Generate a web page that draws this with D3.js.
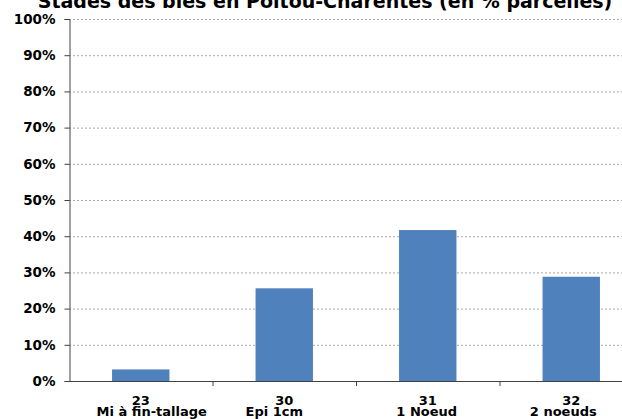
<!DOCTYPE html>
<html><head><meta charset="utf-8">
<script src="https://cdn.jsdelivr.net/npm/d3@7"></script>
<style>body{margin:0;background:#fff}svg{display:block}</style>
</head><body>
<script>
const title = "Stades des blés en Poitou-Charentes (en % parcelles)";
const codes = ["23", "30", "31", "32"];
const stages = ["Mi à fin-tallage", "Epi 1cm", "1 Noeud", "2 noeuds"];
const values = [3.2, 25.6, 41.7, 28.8];
const yTicks = [0, 10, 20, 30, 40, 50, 60, 70, 80, 90, 100];

(function () {
const W = 622, H = 419;
const mLeft = 69, mRight = 643, mTop = 19, mBottom = 381;
const font = "Verdana, 'DejaVu Sans', sans-serif";
const stageShift = [11, -10, -1, -8]; // layout nudge of second label line

const svg = d3.select("body").append("svg").attr("width", W).attr("height", H);

const y = d3.scaleLinear().domain([0, 100]).range([mBottom, mTop]);
const x = d3.scaleBand().domain(codes).range([mLeft, mRight]).paddingInner(0.6).paddingOuter(0.3);
const step = (mRight - mLeft) / codes.length;

// gridlines
svg.append("g").selectAll("line").data(yTicks.filter(d => d > 0)).join("line")
  .attr("x1", mLeft).attr("x2", W).attr("y1", d => y(d) + 0.5).attr("y2", d => y(d) + 0.5)
  .attr("stroke", "#a8a8a8").attr("stroke-width", 1).attr("stroke-dasharray", "2,2");

// bars
svg.append("g").selectAll("rect").data(values).join("rect")
  .attr("x", (d, i) => x(codes[i])).attr("width", x.bandwidth())
  .attr("y", d => y(d)).attr("height", d => y(0) - y(d))
  .attr("fill", "#4f81bd");

// y axis
const yAxis = d3.axisLeft(y).tickValues(yTicks).tickFormat(d => d + "%").tickSize(5).tickPadding(9);
const gy = svg.append("g").attr("transform", `translate(${mLeft + 0.5},0)`).call(yAxis);
gy.select(".domain").attr("stroke", "#404040");
gy.selectAll(".tick line").attr("stroke", "#404040");
gy.selectAll("text").attr("font-family", font).attr("font-weight", "bold").attr("font-size", "13.5px").attr("fill", "#000");

// x axis
svg.append("line").attr("x1", mLeft).attr("x2", W).attr("y1", mBottom + 0.5).attr("y2", mBottom + 0.5)
  .attr("stroke", "#404040").attr("stroke-width", 1);
svg.append("g").selectAll("line").data(d3.range(1, codes.length)).join("line")
  .attr("x1", d => mLeft + d * step + 0.5).attr("x2", d => mLeft + d * step + 0.5)
  .attr("y1", mBottom).attr("y2", mBottom + 5).attr("stroke", "#404040");

const lab = svg.append("g").attr("font-family", font).attr("font-weight", "bold").attr("font-size", "13px").attr("text-anchor", "middle");
lab.selectAll("text.c").data(codes).join("text").attr("class", "c")
  .attr("x", d => x(d) + x.bandwidth() / 2).attr("y", 405).text(d => d);
lab.selectAll("text.s").data(stages).join("text").attr("class", "s")
  .attr("x", (d, i) => x(codes[i]) + x.bandwidth() / 2 + stageShift[i]).attr("y", 416).text(d => d);

// title
svg.append("text").attr("x", 325).attr("y", 8).attr("text-anchor", "middle")
  .attr("font-family", font).attr("font-weight", "bold").attr("font-size", "19px").text(title);
})();
</script>
</body></html>
